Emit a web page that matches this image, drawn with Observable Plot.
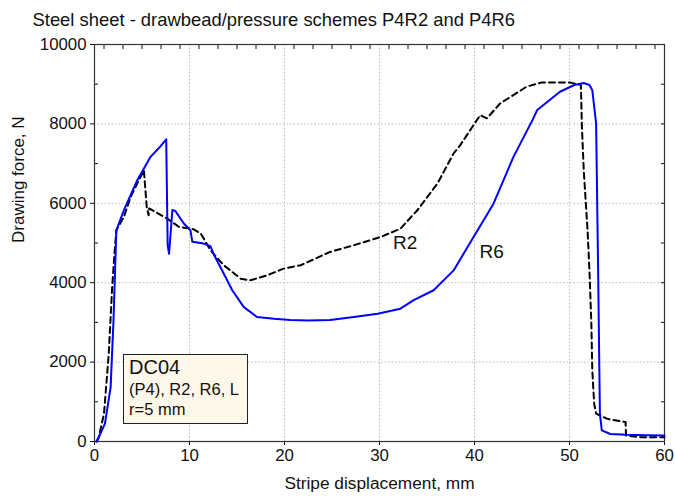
<!DOCTYPE html>
<html>
<head>
<meta charset="utf-8">
<script src="https://cdn.jsdelivr.net/npm/d3@7"></script>
<script src="https://cdn.jsdelivr.net/npm/@observablehq/plot@0.6"></script>
<style>
  body { margin: 0; background: #fff; font-family: Arial, "Liberation Sans", sans-serif; }
  #wrap { position: relative; width: 675px; height: 498px; }
  #note { position: absolute; left: 123px; top: 354px; width: 125px; height: 70px;
          background: #fdf8ea; border: 1px solid #222; box-sizing: border-box;
          padding: 1px 0 0 5px; color: #111; }
  #note .a { font-size: 20px; line-height: 23px; }
  #note .b { font-size: 16.5px; line-height: 20px; }
</style>
</head>
<body>
<div id="wrap"></div>
<script>
const title = "Steel sheet - drawbead/pressure schemes P4R2 and P4R6";
const xLabel = "Stripe displacement, mm";
const yLabel = "Drawing force, N";
const xTicks = [0, 10, 20, 30, 40, 50, 60];
const yTicks = [0, 2000, 4000, 6000, 8000, 10000];
const yMinorTicks = [1000, 3000, 5000, 7000, 9000];
const xMinorTicks = [1, 3, 5, 7, 9, 11, 13, 15, 17, 19, 21, 23, 25, 27, 29, 31, 33, 35, 37, 39, 41, 43, 45, 47, 49, 51, 53, 55, 57, 59];
const noteLines = ["DC04", "(P4), R2, R6, L", "r=5 mm"];

// R6 (solid blue)
const r6X = [0.25,1.1,1.7,2.0,2.3,3.1,4.5,5.9,7.0,7.55,7.7,7.85,8.2,8.5,9.4,10.1,10.3,11.5,12.2,12.6,13.6,14.5,15.7,17.1,18.9,20.6,22.5,24.8,27.3,29.8,32.2,33.6,35.7,37.8,39.9,42.0,44.1,46.1,46.6,49.0,50.5,51.5,52.1,52.4,52.8,53.0,53.2,53.4,54.3,56,58,60];
const r6Y = [0,450,1370,3050,5320,5830,6580,7170,7450,7610,4950,4730,5830,5810,5490,5320,5030,4985,4920,4690,4230,3810,3390,3135,3090,3060,3050,3060,3135,3220,3345,3560,3810,4310,5150,5990,7170,8095,8350,8810,8980,9030,8980,8850,8010,4565,700,280,190,170,160,150];

// R2 (dashed black)
const r2X = [0.2,0.45,1.0,1.5,1.86,2.1,2.3,3.1,3.8,4.5,5.2,5.5,5.7,5.75,7.65,8.9,9.6,10.3,11.2,12.2,13.6,15.4,16.4,18.2,19.9,21.7,24.8,27.3,30.1,32.2,34.0,36.1,37.8,38.5,39.9,40.6,41.3,42.7,45.5,47.0,50.1,51.2,51.3,51.5,51.9,52.1,52.3,52.4,52.6,52.8,54.0,55.9,55.95,57.4,60];
const r2Y = [0,110,700,2210,3890,4730,5320,5660,6160,6500,6830,5900,5700,5870,5615,5405,5380,5360,5235,4820,4440,4100,4060,4190,4355,4440,4775,4945,5150,5360,5830,6500,7255,7465,7970,8220,8140,8515,8940,9040,9040,8980,7970,6830,5320,4310,2970,1790,950,700,570,490,150,110,110];

const seriesLabels = ["R2", "R6"];
const labelX = [32.7, 41.8];
const labelY = [4990, 4770];

const r6 = r6X.map((x, i) => ({x, y: r6Y[i]}));
const r2 = r2X.map((x, i) => ({x, y: r2Y[i]}));
const labels = seriesLabels.map((t, i) => ({t, x: labelX[i], y: labelY[i]}));

const font = "Arial, 'Liberation Sans', sans-serif";
const fmt = d3.format("d");

const chart = Plot.plot({
  width: 675,
  height: 498,
  marginLeft: 94,
  marginRight: 11,
  marginTop: 44,
  marginBottom: 57,
  style: {fontFamily: font, fontSize: "17px", color: "#111", background: "#fff"},
  x: {domain: [0, 60]},
  y: {domain: [0, 10000]},
  marks: [
    Plot.gridX(xTicks.slice(1, -1), {stroke: "#bbb", strokeOpacity: 1, strokeDasharray: "1.5,2"}),
    Plot.gridY(yTicks.slice(1, -1), {stroke: "#bbb", strokeOpacity: 1, strokeDasharray: "1.5,2"}),
    Plot.axisX(xTicks, {anchor: "bottom", tickSize: 4, tickPadding: 4, fontSize: 16.8, tickFormat: fmt, label: null}),
    Plot.axisX(xMinorTicks, {anchor: "top", tickSize: -4, tickFormat: () => "", label: null}),
    Plot.axisY(yTicks, {anchor: "left", tickSize: 4, tickPadding: 4, fontSize: 16.8, tickFormat: fmt, label: null}),
    Plot.axisY(yMinorTicks, {anchor: "left", tickSize: -4, tickFormat: () => "", label: null}),
    Plot.axisY(d3.range(1000, 10000, 1000), {anchor: "right", tickSize: -4, tickFormat: () => "", label: null}),
    Plot.frame({stroke: "#333", strokeWidth: 1.2}),
    Plot.line(r2, {x: "x", y: "y", stroke: "#000", strokeWidth: 2, strokeDasharray: "6,4"}),
    Plot.line(r6, {x: "x", y: "y", stroke: "#0000ff", strokeWidth: 2}),
    Plot.text(labels, {x: "x", y: "y", text: "t", fontSize: 19, fill: "#111"}),
    Plot.text([xLabel], {frameAnchor: "bottom", dy: 47, fontSize: 17.3, fill: "#111"}),
    Plot.text([yLabel], {frameAnchor: "left", dx: -76, rotate: -90, fontSize: 17, fill: "#111"}),
    Plot.text([title], {frameAnchor: "top-left", textAnchor: "start", dx: -62, dy: -32, fontSize: 18.4, fill: "#111"})
  ]
});

const wrap = document.getElementById("wrap");
wrap.appendChild(chart);
const note = document.createElement("div");
note.id = "note";
note.innerHTML = `<div class="a">${noteLines[0]}</div><div class="b">${noteLines[1]}</div><div class="b">${noteLines[2]}</div>`;
wrap.appendChild(note);
</script>
</body>
</html>
